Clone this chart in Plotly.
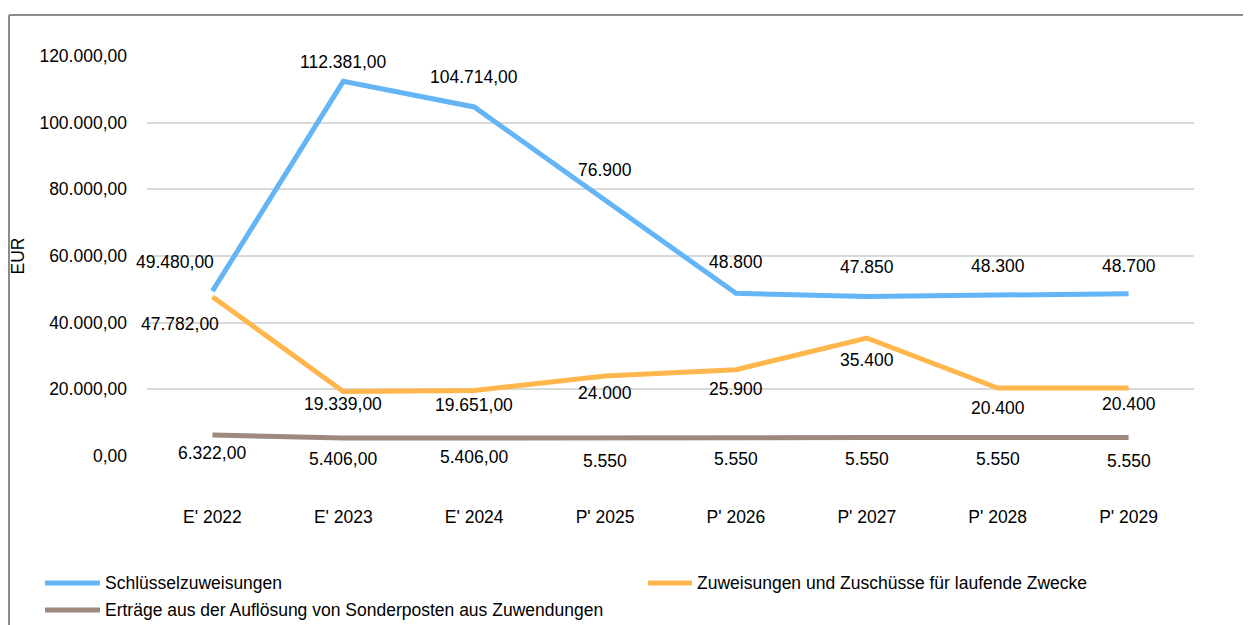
import plotly.graph_objects as go

categories = ["E' 2022", "E' 2023", "E' 2024", "P' 2025", "P' 2026", "P' 2027", "P' 2028", "P' 2029"]
schluessel = [49480, 112381, 104714, 76900, 48800, 47850, 48300, 48700]
zuweisungen = [47782, 19339, 19651, 24000, 25900, 35400, 20400, 20400]
ertraege = [6322, 5406, 5406, 5550, 5550, 5550, 5550, 5550]
y_ticks = [0, 20000, 40000, 60000, 80000, 100000, 120000]

names = ["Schlüsselzuweisungen", "Zuweisungen und Zuschüsse für laufende Zwecke",
         "Erträge aus der Auflösung von Sonderposten aus Zuwendungen"]
colors = ["#64B5F6", "#FFB74D", "#A1887F"]

# label offsets (pixels) for each point: (xshift, yshift)
offsets = [
    [(-37, 29), (0, 19), (0, 30), (0, 30), (0, 31), (0, 30), (0, 29), (0, 28)],
    [(-32, -27), (0, -12), (0, -14), (0, -17), (0, -19), (0, -22), (0, -20), (0, -16)],
    [(0, -18), (0, -21), (0, -19), (0, -23), (0, -21), (0, -21), (0, -21), (0, -23)],
]

FONT = "Liberation Sans, Arial, sans-serif"
FS = 17.5

# page body has an 8px margin; figure is sized/placed to compensate
OFF = 8
W, H = 1251 - OFF, 625 - OFF
# plot-area geometry in target-page pixels
L, R, T, B = 147, 1194, 56, 456


def px(xp):
    return (xp - L) / (R - L)


def py(yp):
    return (B - yp) / (B - T)


def de_fmt(v, decimals):
    s = f"{v:,.{decimals}f}"
    return s.replace(",", "X").replace(".", ",").replace("X", ".")


fig = go.Figure()
series = [schluessel, zuweisungen, ertraege]
for name, vals, col in zip(names, series, colors):
    fig.add_trace(go.Scatter(x=categories, y=vals, mode="lines", name=name,
                             line=dict(color=col, width=5), hoverinfo="skip"))

annotations = []
for vals, offs in zip(series, offsets):
    for cat, v, (dx, dy) in zip(categories, vals, offs):
        dec = 2 if cat.startswith("E'") else 0
        annotations.append(dict(x=cat, y=v, xref="x", yref="y", text=de_fmt(v, dec),
                                showarrow=False, xshift=dx, yshift=dy,
                                font=dict(family=FONT, size=FS, color="#000000")))

# manual legend
legend_pos = [(45, 100, 583), (648, 692, 583), (45, 100, 610)]
shapes = [
    dict(type="line", xref="paper", yref="paper", x0=px(9), x1=px(1260), y0=py(15), y1=py(15),
         line=dict(color="#8C8C8C", width=2)),
    dict(type="line", xref="paper", yref="paper", x0=px(9), x1=px(9), y0=py(15), y1=py(640),
         line=dict(color="#8C8C8C", width=2)),
]
for name, col, (x0, x1, yy) in zip(names, colors, legend_pos):
    shapes.append(dict(type="line", xref="paper", yref="paper", x0=px(x0), x1=px(x1),
                       y0=py(yy), y1=py(yy), line=dict(color=col, width=5)))
    annotations.append(dict(x=px(x1 + 3), y=py(yy), xref="paper", yref="paper", text=name,
                            showarrow=False, xanchor="left", yanchor="middle",
                            font=dict(family=FONT, size=FS, color="#000000")))

fig.update_layout(
    width=W, height=H,
    margin=dict(l=L - OFF, r=1251 - R, t=T - OFF, b=625 - B, autoexpand=False),
    paper_bgcolor="white", plot_bgcolor="white",
    font=dict(family=FONT, size=FS, color="#000000"),
    annotations=annotations,
    shapes=shapes,
    showlegend=False,
    xaxis=dict(type="category", range=[-0.5, 7.5], showgrid=False, zeroline=False,
               showline=False, ticks="", ticklabelstandoff=48, tickfont=dict(size=FS),
               automargin=False),
    yaxis=dict(range=[0, 120000], tickvals=y_ticks,
               ticktext=[de_fmt(t, 2) for t in y_ticks],
               showgrid=True, gridcolor="#D9D9D9", gridwidth=1.5,
               zeroline=False, showline=False, ticks="", ticklabelstandoff=19,
               title=dict(text="EUR", standoff=12, font=dict(size=FS)),
               tickfont=dict(size=FS), automargin=False),
)

fig.write_html("out.html")
